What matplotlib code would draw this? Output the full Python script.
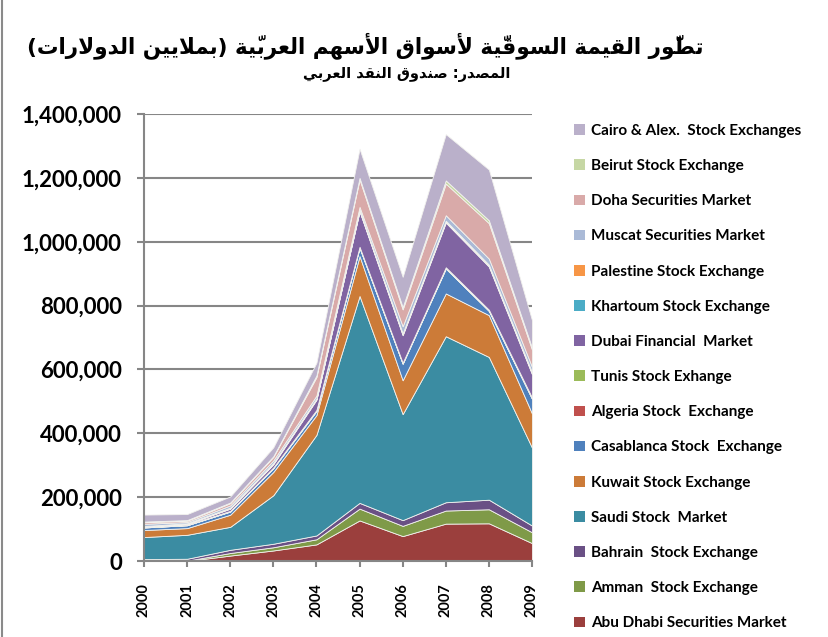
import matplotlib
matplotlib.use("Agg")
import matplotlib.pyplot as plt
from matplotlib.patches import Patch
from matplotlib.lines import Line2D
from matplotlib.ticker import FuncFormatter

# market capitalisation, million USD
years = [2000, 2001, 2002, 2003, 2004, 2005, 2006, 2007, 2008, 2009]

abu_dhabi  = [0, 0, 17000, 33000, 52000, 127000, 78000, 117000, 118000, 56000]
amman      = [500, 1000, 8000, 10000, 16000, 37000, 32000, 41000, 44000, 34000]
bahrain    = [5500, 6000, 10000, 11000, 12000, 18000, 18000, 26000, 30000, 21000]
saudi      = [69000, 75000, 72000, 152000, 315000, 648000, 332000, 520000, 447000, 244000]
kuwait     = [22000, 21000, 38000, 73000, 62000, 125000, 106000, 134000, 131000, 107000]
casablanca = [8000, 9000, 10000, 12000, 13000, 26000, 52000, 78000, 13000, 46000]
algeria    = [100, 100, 100, 100, 100, 100, 100, 1000, 1000, 1000]
tunis      = [2000, 2000, 2000, 2000, 3000, 3000, 3000, 3000, 3000, 3000]
dubai      = [1000, 2000, 7000, 10000, 32000, 111000, 86000, 140000, 135000, 73000]
khartoum   = [300, 1000, 1000, 2000, 2000, 2000, 3000, 3000, 3000, 3000]
palestine  = [1000, 1000, 2000, 2000, 2000, 3000, 3000, 3000, 3000, 3000]
muscat     = [7000, 4000, 7000, 8000, 9000, 9000, 22000, 17000, 19000, 17000]
doha       = [5000, 4000, 7000, 11000, 58000, 86000, 53000, 99000, 111000, 54000]
beirut     = [2000, 2000, 2000, 2000, 5000, 5000, 7000, 10000, 9000, 6000]
cairo      = [22000, 19000, 19000, 28000, 40000, 91000, 95000, 145000, 159000, 86000]

# bottom -> top
names = ["Abu Dhabi Securities Market", "Amman  Stock Exchange", "Bahrain  Stock Exchange",
         "Saudi Stock  Market", "Kuwait Stock Exchange", "Casablanca Stock  Exchange",
         "Algeria Stock  Exchange", "Tunis Stock Exhange", "Dubai Financial  Market",
         "Khartoum Stock Exchange", "Palestine Stock Exchange", "Muscat Securities Market",
         "Doha Securities Market", "Beirut Stock Exchange", "Cairo & Alex.  Stock Exchanges"]
values = [abu_dhabi, amman, bahrain, saudi, kuwait, casablanca, algeria, tunis, dubai,
          khartoum, palestine, muscat, doha, beirut, cairo]
colors = ["#9b3f3d", "#7f9a48", "#6a5085", "#3b8ca2", "#cc7b38", "#4f81bd", "#c0504d",
          "#9bbb59", "#8064a2", "#4bacc6", "#f79646", "#aabad7", "#d9aaa9", "#c6d7a4",
          "#bab0ca"]

title1 = "تطوّر القيمة السوقيّة لأسواق الأسهم العربيّة (بملايين الدولارات)"
title2 = "المصدر: صندوق النقد العربي"

# --- tiny arabic shaper (matplotlib has no text shaping) ---
FORMS = {  # isolated, final, initial, medial
    "ا": "\ufe8d\ufe8e", "أ": "\ufe83\ufe84", "د": "\ufea9\ufeaa", "ر": "\ufead\ufeae",
    "و": "\ufeed\ufeee", "ة": "\ufe93\ufe94",
    "ب": "\ufe8f\ufe90\ufe91\ufe92", "ت": "\ufe95\ufe96\ufe97\ufe98",
    "س": "\ufeb1\ufeb2\ufeb3\ufeb4", "ص": "\ufeb9\ufeba\ufebb\ufebc",
    "ط": "\ufec1\ufec2\ufec3\ufec4", "ع": "\ufec9\ufeca\ufecb\ufecc",
    "ق": "\ufed5\ufed6\ufed7\ufed8", "ل": "\ufedd\ufede\ufedf\ufee0",
    "م": "\ufee1\ufee2\ufee3\ufee4", "ن": "\ufee5\ufee6\ufee7\ufee8",
    "ه": "\ufee9\ufeea\ufeeb\ufeec", "ي": "\ufef1\ufef2\ufef3\ufef4",
    "\ufefb": "\ufefb\ufefc", "\ufef7": "\ufef7\ufef8",
}
MARK = "\u0651"


def shape(text):
    text = text.replace("لا", "\ufefb").replace("لأ", "\ufef7")
    ch = list(text)
    out = []
    for i, c in enumerate(ch):
        if c not in FORMS:
            out.append(c)
            continue
        j = i - 1
        while j >= 0 and ch[j] == MARK:
            j -= 1
        k = i + 1
        while k < len(ch) and ch[k] == MARK:
            k += 1
        f = FORMS[c]
        prev_j = j >= 0 and ch[j] in FORMS and len(FORMS[ch[j]]) == 4
        next_j = k < len(ch) and ch[k] in FORMS and len(f) == 4
        if prev_j and next_j:
            out.append(f[3])
        elif prev_j:
            out.append(f[1])
        elif next_j:
            out.append(f[2])
        else:
            out.append(f[0])
    groups = []
    for g in out:
        if g == MARK and groups:
            groups[-1] += g
        else:
            groups.append(g)
    return "".join(reversed(groups)).translate(str.maketrans("()", ")("))


W, H = 829, 637
fig = plt.figure(figsize=(W / 100, H / 100), dpi=100)
ax = fig.add_axes([144 / W, 1 - 561 / H, (532 - 144) / W, (561 - 114) / H])

ax.stackplot(years, values, colors=colors, edgecolor="#f2f2ee", linewidth=0.6)

ax.set_xlim(2000, 2009)
ax.set_ylim(0, 1400000)
ax.set_yticks(range(0, 1400001, 200000))
ax.set_xticks(years)
ax.yaxis.set_major_formatter(FuncFormatter(lambda v, p: f"{int(v):,}"))
ax.set_axisbelow(True)
ax.yaxis.grid(True, color="#868686", lw=1.5)

grey = "#868686"
for s in ["top", "right"]:
    ax.spines[s].set_visible(False)
for s in ["left", "bottom"]:
    ax.spines[s].set_color(grey)
    ax.spines[s].set_linewidth(1.5)

ax.tick_params(axis="y", direction="out", length=5, width=1.5, color=grey, pad=11)
ax.tick_params(axis="x", direction="out", length=4, width=1.5, color=grey, pad=12)
for lab in ax.get_yticklabels():
    lab.set_fontfamily("Lato")
    lab.set_fontweight("bold")
    lab.set_fontsize(16)
for lab in ax.get_xticklabels():
    lab.set_fontfamily("Lato")
    lab.set_fontweight("bold")
    lab.set_fontsize(10.5)
    lab.set_rotation(90)

handles = [Patch(facecolor=c, edgecolor="none") for c in colors][::-1]
fig.legend(handles, names[::-1], loc="upper left", bbox_to_anchor=(574 / W, 1 - 124 / H),
           frameon=False, prop={"family": "Lato", "weight": "bold", "size": 11},
           handlelength=0.7, handleheight=0.7, handletextpad=0.4,
           labelspacing=1.385, borderpad=0, borderaxespad=0)

fig.text(365 / W, 1 - 46 / H, shape(title1), ha="center", va="center",
         fontsize=15.5, fontweight="bold", family=["DejaVu Sans"])
fig.text(407 / W, 1 - 75 / H, shape(title2), ha="center", va="center",
         fontsize=10.5, fontweight="bold", family=["DejaVu Sans"])

fig.add_artist(Line2D([2.5 / W, 2.5 / W], [0, 1], color="#8a8a8a", lw=1.5,
                      transform=fig.transFigure))

fig.savefig("out.png", dpi=100)
